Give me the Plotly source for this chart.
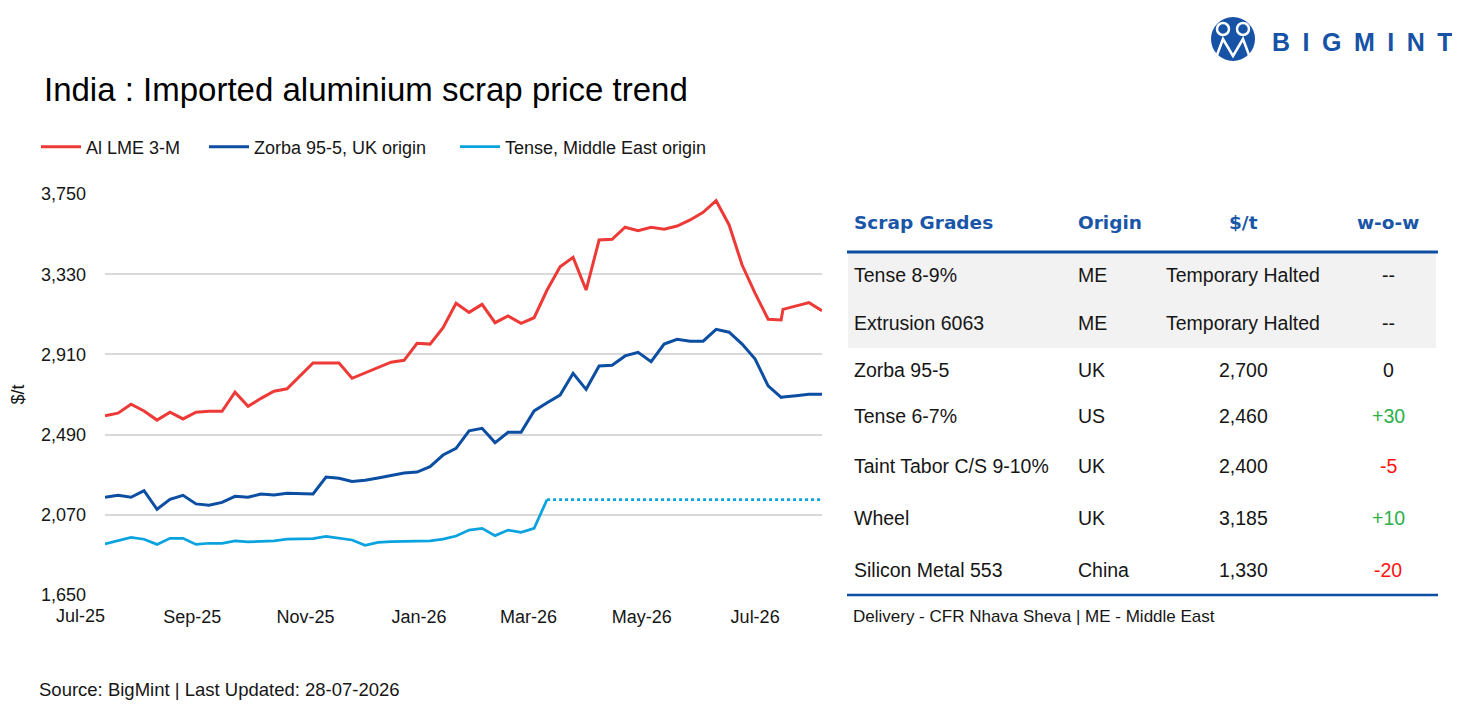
import plotly.graph_objects as go

# weekly price points (one extra print on 16-Jul-26)
dates = [
    "2025-07-16", "2025-07-23", "2025-07-30", "2025-08-06", "2025-08-13", "2025-08-20",
    "2025-08-27", "2025-09-03", "2025-09-10", "2025-09-17", "2025-09-24", "2025-10-01",
    "2025-10-08", "2025-10-15", "2025-10-22", "2025-10-29", "2025-11-05", "2025-11-12",
    "2025-11-19", "2025-11-26", "2025-12-03", "2025-12-10", "2025-12-17", "2025-12-24",
    "2025-12-31", "2026-01-07", "2026-01-14", "2026-01-21", "2026-01-28", "2026-02-04",
    "2026-02-11", "2026-02-18", "2026-02-25", "2026-03-04", "2026-03-11", "2026-03-18",
    "2026-03-25", "2026-04-01", "2026-04-08", "2026-04-15", "2026-04-22", "2026-04-29",
    "2026-05-06", "2026-05-13", "2026-05-20", "2026-05-27", "2026-06-03", "2026-06-10",
    "2026-06-17", "2026-06-24", "2026-07-01", "2026-07-08", "2026-07-15", "2026-07-16",
    "2026-07-23", "2026-07-30", "2026-08-06",
]

lme_3m = [
    2589, 2602, 2649, 2614, 2566, 2607, 2572, 2607, 2612, 2612, 2712, 2638,
    2680, 2717, 2730, 2798, 2865, 2865, 2865, 2785, 2814, 2842, 2869, 2879,
    2968, 2964, 3050, 3178, 3130, 3172, 3076, 3111, 3073, 3102, 3247, 3369,
    3418, 3247, 3509, 3513, 3576, 3558, 3576, 3565, 3582, 3614, 3654, 3715,
    3588, 3378, 3230, 3094, 3090, 3146, 3163, 3181, 3139,
]

zorba_uk = [
    2162, 2172, 2162, 2196, 2099, 2151, 2172, 2127, 2120, 2135, 2167, 2162,
    2179, 2174, 2183, 2181, 2179, 2268, 2261, 2245, 2251, 2263, 2278, 2289,
    2294, 2322, 2383, 2418, 2510, 2523, 2448, 2502, 2502, 2614, 2657, 2697,
    2811, 2727, 2849, 2853, 2902, 2921, 2872, 2964, 2989, 2979, 2979, 3041,
    3026, 2964, 2886, 2745, 2685, 2687, 2694, 2701, 2701,
]

# Tense ME: trading halted after mid-March, last price carried (dotted)
tense_me = [
    1917, 1933, 1952, 1942, 1915, 1947, 1947, 1915, 1921, 1921, 1933, 1928,
    1931, 1933, 1942, 1943, 1945, 1957, 1948, 1938, 1910, 1926, 1929, 1931,
    1931, 1933, 1943, 1959, 1990, 1999, 1961, 1990, 1978, 1999, 2150, 2150,
    2150, 2150, 2150, 2150, 2150, 2150, 2150, 2150, 2150, 2150, 2150, 2150,
    2150, 2150, 2150, 2150, 2150, 2150, 2150, 2150, 2150,
]
halt_idx = 34

y_ticks = [1650, 2070, 2490, 2910, 3330, 3750]

# price table
grades = ["Tense 8-9%", "Extrusion 6063", "Zorba 95-5", "Tense 6-7%",
          "Taint Tabor C/S 9-10%", "Wheel", "Silicon Metal 553"]
origins = ["ME", "ME", "UK", "US", "UK", "UK", "China"]
prices = ["Temporary Halted", "Temporary Halted", "2,700", "2,460", "2,400", "3,185", "1,330"]
wow = ["--", "--", "0", "+30", "-5", "+10", "-20"]

RED = "#EE3A37"
BLUE = "#0B4EA2"
LIGHT = "#0AA3E0"
HEAD = "#1A56A8"
TXT = "#161616"
FONT = "Liberation Sans, Arial, sans-serif"

# page body has an 8px margin, so the figure is drawn 8px smaller
BODY = 8
W, H = 1460 - BODY, 715 - BODY
ML, MT, MB = 105 - BODY, 194 - BODY, 120
PW = W - ML
PH = H - MT - MB


def px2x(px):
    # screen px (reference) -> paper x
    return (px - BODY - ML) / PW


def py2y(py):
    return (H - MB - (py - BODY)) / PH


fig = go.Figure()
fig.add_trace(go.Scatter(x=dates, y=lme_3m, name="Al LME 3-M", mode="lines",
                         line=dict(color=RED, width=3), legend="legend"))
fig.add_trace(go.Scatter(x=dates, y=zorba_uk, name="Zorba 95-5, UK origin", mode="lines",
                         line=dict(color=BLUE, width=3), legend="legend2"))
fig.add_trace(go.Scatter(x=dates[:halt_idx + 1], y=tense_me[:halt_idx + 1],
                         name="Tense, Middle East origin", mode="lines",
                         line=dict(color=LIGHT, width=2.75), legend="legend3"))
fig.add_trace(go.Scatter(x=dates[halt_idx:], y=tense_me[halt_idx:], mode="lines",
                         line=dict(color=LIGHT, width=2.75, dash="dot"), showlegend=False))

legend_common = dict(orientation="h", yanchor="middle", xanchor="left", y=py2y(147),
                     font=dict(family=FONT, size=18, color=TXT),
                     bgcolor="rgba(0,0,0,0)", borderwidth=0, itemwidth=40)

ann = []
shapes = []


def label(text, px, py, size, color=TXT, anchor="left", family=FONT):
    ann.append(dict(text=text, x=px2x(px), y=py2y(py), xref="paper", yref="paper",
                    xanchor=anchor, yanchor="middle", showarrow=False,
                    font=dict(family=family, size=size, color=color)))


label("India : Imported aluminium scrap price trend", 42, 90, 33, color="#000")
label("Source: BigMint | Last Updated: 28-07-2026", 37, 689, 18.5)
# first month label sits left of the plotted range
label("Jul-25", 80, 616, 18, anchor="center")

# table
col_name, col_origin, col_price, col_wow = 852, 1076, 1243, 1388
for text, cx, anchor in [("Scrap Grades", col_name, "left"), ("Origin", col_origin, "left"),
                         ("$/t", col_price, "center"), ("w-o-w", col_wow, "center")]:
    label("<b>" + text + "</b>", cx, 222, 18.5, color=HEAD, anchor=anchor, family="DejaVu Sans")

row_y = [275, 323, 370, 416, 466, 518, 570]
shapes.append(dict(type="rect", xref="paper", yref="paper", x0=px2x(848), x1=px2x(1436),
                   y0=py2y(348), y1=py2y(253), fillcolor="#F2F2F2", line=dict(width=0), layer="below"))
shapes.append(dict(type="line", xref="paper", yref="paper", x0=px2x(847), x1=px2x(1438),
                   y0=py2y(252), y1=py2y(252), line=dict(color=BLUE, width=3)))
shapes.append(dict(type="line", xref="paper", yref="paper", x0=px2x(847), x1=px2x(1438),
                   y0=py2y(595), y1=py2y(595), line=dict(color=BLUE, width=2.5)))

for g, o, p, w, ry in zip(grades, origins, prices, wow, row_y):
    label(g, col_name, ry, 19.5)
    label(o, col_origin, ry, 19.5)
    label(p, col_price, ry, 19.5, anchor="center")
    if w.startswith("+"):
        wc = "#2BB04A"
    elif w.startswith("-") and w != "--":
        wc = "#FF1414"
    else:
        wc = TXT
    label(w, col_wow, ry, 19.5, color=wc, anchor="center")

label("Delivery - CFR Nhava Sheva | ME - Middle East", 851, 616, 17)

# logo
LOGO = "#1652A5"
shapes.append(dict(type="circle", xref="paper", yref="paper", x0=px2x(1211), x1=px2x(1255),
                   y0=py2y(61), y1=py2y(17), fillcolor=LOGO, line=dict(width=0)))
for hx in (1223, 1243):
    shapes.append(dict(type="circle", xref="paper", yref="paper", x0=px2x(hx - 6), x1=px2x(hx + 6),
                       y0=py2y(35), y1=py2y(23), fillcolor=LOGO, line=dict(color="white", width=2.5)))
pts = [(1217, 55), (1223, 39), (1233, 56), (1243, 39), (1249, 55)]
path = "M " + " L ".join("{:.5f},{:.5f}".format(px2x(a), py2y(b)) for a, b in pts)
shapes.append(dict(type="path", xref="paper", yref="paper", path=path,
                   line=dict(color="white", width=2.5)))
label("<b>B\u2002I\u2002G\u2002M\u2002I\u2002N\u2002T</b>", 1270, 42, 25, color=LOGO)

fig.update_layout(
    width=W, height=H, autosize=False,
    margin=dict(l=ML, r=0, t=MT, b=MB),
    paper_bgcolor="white", plot_bgcolor="white",
    font=dict(family=FONT, size=18, color=TXT),
    legend=dict(legend_common, x=px2x(36)),
    legend2=dict(legend_common, x=px2x(204)),
    legend3=dict(legend_common, x=px2x(455)),
    annotations=ann, shapes=shapes,
    xaxis=dict(domain=[0, (822 - 105) / PW], type="date", range=[dates[0], dates[-1]],
               tick0="2025-07-01", dtick="M2", tickformat="%b-%y",
               showgrid=False, zeroline=False, showline=False, ticks="",
               ticklabelstandoff=9, tickfont=dict(size=18, color=TXT)),
    yaxis=dict(range=[1650, 3750], tickvals=y_ticks, tickformat=",",
               showgrid=True, gridcolor="#D9D9D9", gridwidth=1.6,
               zeroline=False, showline=False, ticks="", ticklabelstandoff=18,
               tickfont=dict(size=18, color=TXT),
               title=dict(text="$/t", standoff=12, font=dict(size=18, color=TXT))),
)

fig.write_html("out.html")
